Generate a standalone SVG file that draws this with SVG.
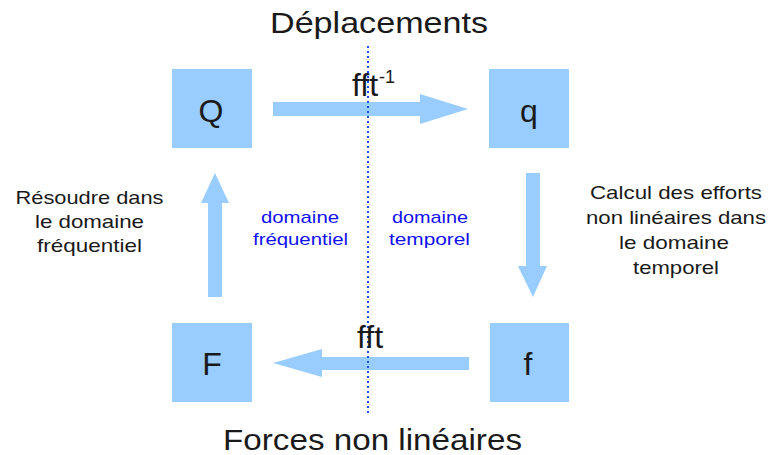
<svg xmlns="http://www.w3.org/2000/svg" width="769" height="455" viewBox="0 0 769 455">
<style>
.box{fill:#99ccff}
.arr{fill:#99ccff}
.t{font-family:"Liberation Sans",Arial,sans-serif;fill:#1a1a1a;text-anchor:middle}
.big{font-size:30px}
.lbl{font-size:32px}
.side{font-size:18.5px}
.dom{font-family:"Liberation Sans",Arial,sans-serif;font-size:17px;fill:#1010f0;text-anchor:middle}
</style>
<rect width="769" height="455" fill="#fff"/>
<text class="t big" x="379" y="33" textLength="218" lengthAdjust="spacingAndGlyphs">Déplacements</text>
<text class="t big" x="372.5" y="450" textLength="299" lengthAdjust="spacingAndGlyphs">Forces non linéaires</text>
<g id="node-Q"><rect class="box" x="172" y="69" width="80" height="79"/><text class="t lbl" x="211" y="122">Q</text></g>
<g id="node-q"><rect class="box" x="489" y="69" width="80" height="79"/><text class="t lbl" x="529" y="122">q</text></g>
<g id="node-F"><rect class="box" x="172" y="323" width="80" height="79"/><text class="t lbl" x="212" y="375">F</text></g>
<g id="node-f"><rect class="box" x="490" y="323" width="79" height="79"/><text class="t lbl" x="528" y="375">f</text></g>
<g id="connectors">
<polygon class="arr" points="273,102 420,102 420,94 468,109 420,124 420,116 273,116"/>
<polygon class="arr" points="526,173 540,173 540,266 547,266 533,297 518,266 526,266"/>
<polygon class="arr" points="469,357 322,357 322,349 273,363 322,377 322,370 469,370"/>
<polygon class="arr" points="208,297 222,297 222,203 229,203 215,173 201,203 208,203"/>
</g>
<line x1="368" y1="46" x2="368" y2="414" stroke="#1a4fe6" stroke-width="2" stroke-dasharray="2,3"/>
<text class="t lbl" x="352" y="96" style="text-anchor:start">fft<tspan font-size="18" x="379" y="83">-1</tspan></text>
<text class="t lbl" x="357" y="348" style="text-anchor:start">fft</text>
<g id="label-left">
<text class="t side" x="89.5" y="204" textLength="148" lengthAdjust="spacingAndGlyphs">Résoudre dans</text>
<text class="t side" x="89.5" y="228" textLength="109" lengthAdjust="spacingAndGlyphs">le domaine</text>
<text class="t side" x="89.5" y="252" textLength="105" lengthAdjust="spacingAndGlyphs">fréquentiel</text>
</g>
<g id="label-right">
<text class="t side" x="676" y="199" textLength="172" lengthAdjust="spacingAndGlyphs">Calcul des efforts</text>
<text class="t side" x="676" y="224" textLength="180" lengthAdjust="spacingAndGlyphs">non linéaires dans</text>
<text class="t side" x="674" y="249" textLength="110" lengthAdjust="spacingAndGlyphs">le domaine</text>
<text class="t side" x="676" y="274" textLength="86" lengthAdjust="spacingAndGlyphs">temporel</text>
</g>
<g id="label-freq">
<text class="dom" x="300" y="223" textLength="78" lengthAdjust="spacingAndGlyphs">domaine</text>
<text class="dom" x="300.5" y="245" textLength="95" lengthAdjust="spacingAndGlyphs">fréquentiel</text>
</g>
<g id="label-temp">
<text class="dom" x="430" y="223" textLength="76" lengthAdjust="spacingAndGlyphs">domaine</text>
<text class="dom" x="429.5" y="245" textLength="81" lengthAdjust="spacingAndGlyphs">temporel</text>
</g>
</svg>
